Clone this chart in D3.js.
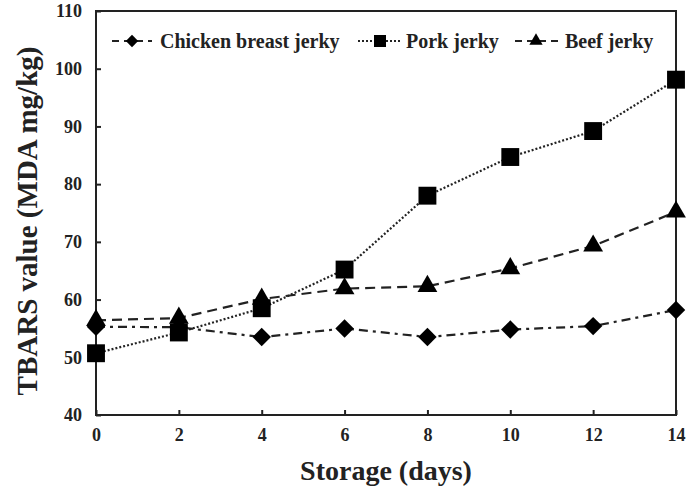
<!DOCTYPE html>
<html>
<head>
<meta charset="utf-8">
<script src="https://cdn.jsdelivr.net/npm/d3@7"></script>
<style>
  body { margin: 0; background: #fff; }
  text { font-family: "Liberation Serif", "Times New Roman", serif; font-weight: bold; fill: #222; }
</style>
</head>
<body>
<div id="chart"></div>
<script>
// storage days
const days = [0, 2, 4, 6, 8, 10, 12, 14];
// TBARS values (MDA mg/kg)
const chicken = [55.3, 55.2, 53.5, 55.0, 53.5, 54.8, 55.4, 58.2];
const pork = [50.7, 54.3, 58.5, 65.2, 78.0, 84.7, 89.2, 98.1];
const beef = [56.4, 56.8, 60.1, 61.9, 62.3, 65.4, 69.3, 75.2];
const seriesNames = ["Chicken breast jerky", "Pork jerky", "Beef jerky"];
const yTicks = [40, 50, 60, 70, 80, 90, 100, 110];

const width = 691, height = 488;
const margin = { top: 11, right: 15, bottom: 73, left: 96 };
const w = width - margin.left - margin.right;
const h = height - margin.top - margin.bottom;

const svg = d3.select('#chart').append('svg')
    .attr('width', width)
    .attr('height', height);

const g = svg.append('g')
    .attr('transform', `translate(${margin.left},${margin.top})`);

const x = d3.scaleLinear().domain([0, 14]).range([0, w]);
const y = d3.scaleLinear().domain([40, 110]).range([h, 0]);

// frame
g.append('rect')
    .attr('width', w).attr('height', h)
    .attr('fill', 'none')
    .attr('stroke', '#222')
    .attr('stroke-width', 2);

// axes with inward ticks
const xAxis = g.append('g')
    .attr('transform', `translate(0,${h})`)
    .call(d3.axisBottom(x).tickValues(days).tickSize(-5).tickPadding(13));
const yAxis = g.append('g')
    .call(d3.axisLeft(y).tickValues(yTicks).tickSize(-5).tickPadding(14));

[xAxis, yAxis].forEach(a => {
    a.select('.domain').remove();
    a.selectAll('line').attr('stroke', '#222').attr('stroke-width', 2);
    a.selectAll('text')
        .style('font-family', '"Liberation Serif", serif')
        .style('font-weight', 'bold')
        .style('font-size', '18px')
        .attr('fill', '#333');
});

// diamond as a square turned 45 degrees
const diamond = {
    draw(ctx, size) {
        const r = Math.sqrt(size / 2);
        ctx.moveTo(0, -r);
        ctx.lineTo(r, 0);
        ctx.lineTo(0, r);
        ctx.lineTo(-r, 0);
        ctx.closePath();
    }
};

const series = [
    { name: seriesNames[0], values: chicken, dash: '9,5,3,5', shape: diamond, size: 170 },
    { name: seriesNames[1], values: pork, dash: '2,2', shape: d3.symbolSquare, size: 320 },
    { name: seriesNames[2], values: beef, dash: '10,6', shape: d3.symbolTriangle, size: 170 }
];

const line = d3.line()
    .x((d, i) => x(days[i]))
    .y(d => y(d));

series.forEach(s => {
    g.append('path')
        .datum(s.values)
        .attr('d', line)
        .attr('fill', 'none')
        .attr('stroke', '#222')
        .attr('stroke-width', 2.2)
        .attr('stroke-dasharray', s.dash);
});

series.forEach(s => {
    g.selectAll(null)
        .data(s.values)
        .enter().append('path')
        .attr('d', d3.symbol().type(s.shape).size(s.size))
        .attr('transform', (d, i) => `translate(${x(days[i])},${y(d)})`)
        .attr('fill', '#000');
});

// legend
const legendPos = [
    { x0: 16, sym: 36, x1: 56, tx: 64 },
    { x0: 262, sym: 284, x1: 306, tx: 310 },
    { x0: 419, sym: 440, x1: 464, tx: 469 }
];
series.forEach((s, i) => {
    const p = legendPos[i];
    const lg = g.append('g').attr('transform', 'translate(0,30)');
    lg.append('line')
        .attr('x1', p.x0).attr('x2', p.x1)
        .attr('stroke', '#222').attr('stroke-width', 2)
        .attr('stroke-dasharray', i === 1 ? '2,2' : '7,5');
    lg.append('path')
        .attr('d', d3.symbol().type(s.shape).size(s.size * 0.45))
        .attr('transform', `translate(${p.sym},0)`)
        .attr('fill', '#000');
    lg.append('text')
        .attr('x', p.tx).attr('dy', '0.35em')
        .style('font-size', '20px')
        .text(s.name);
});

// axis titles
svg.append('text')
    .attr('x', margin.left + w / 2)
    .attr('y', 480)
    .attr('text-anchor', 'middle')
    .style('font-size', '28px')
    .text('Storage (days)');

svg.append('text')
    .attr('transform', `translate(37,${margin.top + h / 2 + 8}) rotate(-90)`)
    .attr('text-anchor', 'middle')
    .style('font-size', '29px')
    .text('TBARS value (MDA mg/kg)');
</script>
</body>
</html>
